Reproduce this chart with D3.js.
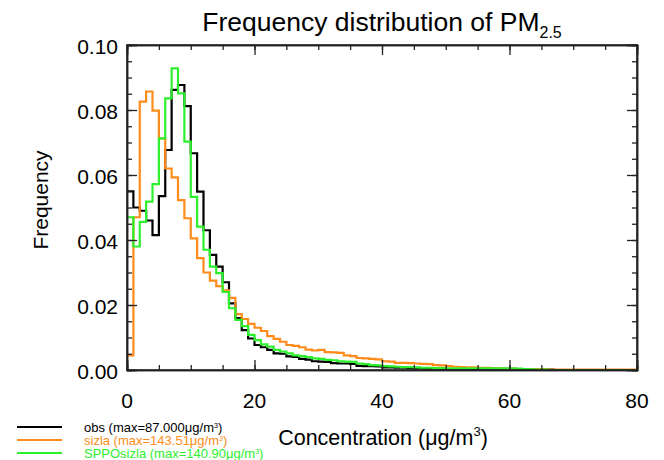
<!DOCTYPE html>
<html>
<head>
<meta charset="utf-8">
<script src="https://cdn.jsdelivr.net/npm/d3@7"></script>
<style>
  body { margin: 0; background: #fff; }
  svg text { font-family: "Liberation Sans", Arial, Helvetica, sans-serif; fill: #000; }
</style>
</head>
<body>
<script>
// frequency per 1 ug/m3 bin, bins start at 0,1,2,...,79
var obs = [0.055, 0.050, 0.049, 0.046, 0.0415, 0.0535, 0.0677, 0.0862, 0.0877, 0.0812,
  0.0667, 0.0549, 0.0430, 0.0354, 0.0318, 0.0270, 0.0205, 0.0160, 0.0123, 0.0097,
  0.0077, 0.0070, 0.0062, 0.0051, 0.0050, 0.0042, 0.0040, 0.0034, 0.0032, 0.0027,
  0.0026, 0.0025, 0.0021, 0.0020, 0.0020, 0.0019, 0.0013, 0.0012, 0.0012, 0.0011,
  0.0008, 0.0008, 0.0007, 0.0007, 0.0006, 0.0005, 0.0005, 0.0004, 0.0004, 0.0003,
  0.0003, 0.0003, 0.0002, 0.0002, 0.0002, 0.0002, 0.0001, 0.0001, 0.0001, 0.0001,
  0.0001, 0.0001, 0.0001, 0.0001, 0.0001, 0.0001, 0.0001, 0.0, 0.0, 0.0,
  0.0, 0.0, 0.0, 0.0, 0.0, 0.0, 0.0, 0.0, 0.0, 0.0];

var sizla = [0.0045, 0.047, 0.0826, 0.0857, 0.0798, 0.0713, 0.0620, 0.0593, 0.0523, 0.0467,
  0.0405, 0.0344, 0.0300, 0.0275, 0.0258, 0.0245, 0.0222, 0.0172, 0.0157, 0.0142,
  0.0130, 0.0120, 0.0104, 0.0096, 0.0087, 0.0077, 0.0074, 0.0070, 0.0063, 0.0060,
  0.0062, 0.0055, 0.0054, 0.0053, 0.0045, 0.0043, 0.0037, 0.0036, 0.0034, 0.0033,
  0.0027, 0.0026, 0.0022, 0.0022, 0.0021, 0.0020, 0.0019, 0.0018, 0.0015, 0.0014,
  0.0012, 0.0010, 0.0009, 0.0008, 0.0008, 0.0007, 0.0007, 0.0006, 0.0006, 0.0004,
  0.0004, 0.0003, 0.0003, 0.0003, 0.0003, 0.0002, 0.0001, 0.0001, 0.0001, 0.0001,
  0.0001, 0.0001, 0.0001, 0.0001, 0.0001, 0.0001, 0.0001, 0.0001, 0.0001, 0.0001];

var spposizla = [0.047, 0.038, 0.0456, 0.0518, 0.0572, 0.0713, 0.0836, 0.0928, 0.0851, 0.0703,
  0.0533, 0.0441, 0.0370, 0.0318, 0.0298, 0.0240, 0.0190, 0.0154, 0.0135, 0.0108,
  0.0092, 0.0079, 0.0072, 0.0062, 0.0057, 0.0051, 0.0045, 0.0043, 0.0040, 0.0036,
  0.0034, 0.0031, 0.0030, 0.0027, 0.0026, 0.0025, 0.0020, 0.0018, 0.0015, 0.0014,
  0.0012, 0.0011, 0.0010, 0.0009, 0.0009, 0.0008, 0.0007, 0.0007, 0.0006, 0.0006,
  0.0005, 0.0005, 0.0005, 0.0005, 0.0005, 0.0005, 0.0005, 0.0005, 0.0005, 0.0005,
  0.0005, 0.0004, 0.0003, 0.0002, 0.0001, 0.0001, 0.0, 0.0, 0.0, 0.0,
  0.0, 0.0, 0.0, 0.0, 0.0, 0.0, 0.0, 0.0, 0.0, 0.0];

var seriesNames = ["obs (max=87.000", "sizla (max=143.51", "SPPOsizla (max=140.90"];
var seriesColors = ["#000000", "#ff8c1a", "#2cf02c"];
var xTicks = [0, 20, 40, 60, 80];
var yTicks = [0.00, 0.02, 0.04, 0.06, 0.08, 0.10];

var width = 664, height = 460;
var margin = {left: 127, right: 27, top: 45, bottom: 90};

var svg = d3.select("body").append("svg")
    .attr("width", width)
    .attr("height", height);

var x = d3.scaleLinear().domain([0, 80]).range([margin.left, width - margin.right]);
var y = d3.scaleLinear().domain([0, 0.10]).range([height - margin.bottom, margin.top]);

//clip so steps stay inside the frame
svg.append("clipPath").attr("id", "plotclip")
  .append("rect")
    .attr("x", x(0)).attr("y", y(0.10))
    .attr("width", x(80) - x(0)).attr("height", y(0) - y(0.10));

var line = d3.line()
    .x(function(d){ return x(d[0]); })
    .y(function(d){ return y(d[1]); })
    .curve(d3.curveStepAfter);

[obs, sizla, spposizla].forEach(function(vals, k){
    var pts = vals.map(function(v, i){ return [i, v]; });
    pts.push([vals.length, vals[vals.length - 1]]);
    svg.append("path")
        .datum(pts)
        .attr("clip-path", "url(#plotclip)")
        .attr("fill", "none")
        .attr("stroke", seriesColors[k])
        .attr("stroke-width", 2.2)
        .attr("stroke-linejoin", "miter")
        .attr("d", line);
});

//axes, IDL style: ticks inward on all four sides
var xMinor = d3.range(0, 81, 5);
var yMinor = d3.range(0, 0.1001, 0.005);

svg.append("g")
    .attr("transform", "translate(0," + y(0) + ")")
    .call(d3.axisTop(x).tickValues(xMinor).tickSize(5).tickFormat(""));
svg.append("g")
    .attr("transform", "translate(0," + y(0) + ")")
    .call(d3.axisTop(x).tickValues(xTicks).tickSize(10).tickFormat(""));
svg.append("g")
    .attr("transform", "translate(0," + y(0.10) + ")")
    .call(d3.axisBottom(x).tickValues(xMinor).tickSize(5).tickFormat(""));
svg.append("g")
    .attr("transform", "translate(0," + y(0.10) + ")")
    .call(d3.axisBottom(x).tickValues(xTicks).tickSize(10).tickFormat(""));
svg.append("g")
    .attr("transform", "translate(" + x(0) + ",0)")
    .call(d3.axisRight(y).tickValues(yMinor).tickSize(5).tickFormat(""));
svg.append("g")
    .attr("transform", "translate(" + x(0) + ",0)")
    .call(d3.axisRight(y).tickValues(yTicks).tickSize(10).tickFormat(""));
svg.append("g")
    .attr("transform", "translate(" + x(80) + ",0)")
    .call(d3.axisLeft(y).tickValues(yMinor).tickSize(5).tickFormat(""));
svg.append("g")
    .attr("transform", "translate(" + x(80) + ",0)")
    .call(d3.axisLeft(y).tickValues(yTicks).tickSize(10).tickFormat(""));

svg.selectAll(".domain").attr("stroke", "#222").attr("stroke-width", 1.5);
svg.selectAll(".tick line").attr("stroke", "#222").attr("stroke-width", 1.3);

//frame
svg.append("rect")
    .attr("x", x(0)).attr("y", y(0.10))
    .attr("width", x(80) - x(0)).attr("height", y(0) - y(0.10))
    .attr("fill", "none").attr("stroke", "#222").attr("stroke-width", 1.5);

//tick labels
svg.selectAll(".xlab").data(xTicks).enter().append("text")
    .attr("x", function(d){ return x(d); })
    .attr("y", y(0) + 38)
    .attr("text-anchor", "middle")
    .style("font-size", "21px")
    .text(function(d){ return d; });

svg.selectAll(".ylab").data(yTicks).enter().append("text")
    .attr("x", x(0) - 9)
    .attr("y", function(d){ return y(d) + 9; })
    .attr("text-anchor", "end")
    .style("font-size", "21px")
    .text(function(d){ return d3.format(".2f")(d); });

//title
var title = svg.append("text")
    .attr("x", 382).attr("y", 31)
    .attr("text-anchor", "middle")
    .style("font-size", "26.5px");
title.append("tspan").text("Frequency distribution of PM");
title.append("tspan").attr("dy", 7).style("font-size", "16px").text("2.5");

//axis titles
var xt = svg.append("text")
    .attr("x", 383).attr("y", 445)
    .attr("text-anchor", "middle")
    .style("font-size", "21.5px");
xt.append("tspan").text("Concentration (\u03bcg/m");
xt.append("tspan").attr("dy", -9).style("font-size", "13px").text("3");
xt.append("tspan").attr("dy", 9).text(")");

svg.append("text")
    .attr("transform", "translate(48,200) rotate(-90)")
    .attr("text-anchor", "middle")
    .style("font-size", "21px")
    .text("Frequency");

//legend
var legY = [427, 440, 453];
seriesNames.forEach(function(name, k){
    svg.append("line")
        .attr("x1", 17).attr("x2", 62)
        .attr("y1", legY[k]).attr("y2", legY[k])
        .attr("stroke", seriesColors[k]).attr("stroke-width", 2);
    var t = svg.append("text")
        .attr("x", 84).attr("y", legY[k] + 4.5)
        .style("font-size", "13px")
        .style("fill", seriesColors[k]);
    t.append("tspan").text(name + "\u03bcg/m");
    t.append("tspan").attr("dy", -4).style("font-size", "7px").text("3");
    t.append("tspan").attr("dy", 4).text(")");
});
</script>
</body>
</html>
